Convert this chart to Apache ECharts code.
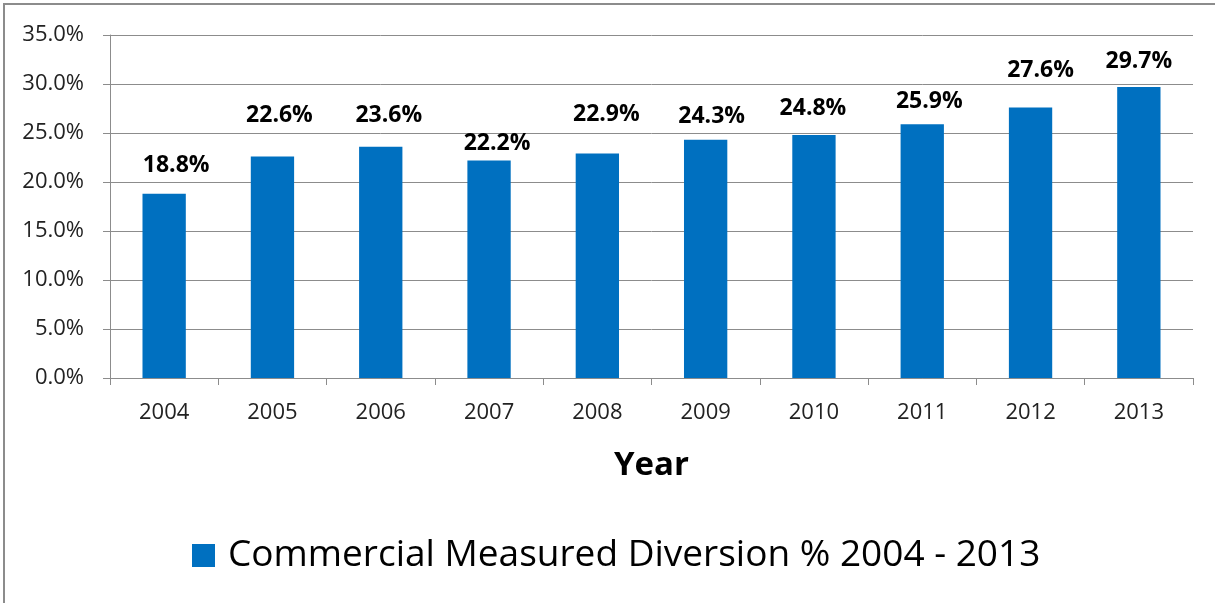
<!DOCTYPE html>
<html>
<head>
<meta charset="utf-8">
<script src="https://cdn.jsdelivr.net/npm/echarts@6/dist/echarts.min.js"></script>
<style>
html,body{margin:0;padding:0;background:#fff;overflow:hidden;}
#frame{position:absolute;left:3px;top:3px;width:1240px;height:640px;border:2px solid #8c8c8c;}
#main{position:absolute;left:0;top:0;width:1215px;height:603px;}
</style>
</head>
<body>
<div id="frame"></div>
<div id="main"></div>
<script>
// data
var years = ['2004','2005','2006','2007','2008','2009','2010','2011','2012','2013'];
var diversion = [18.8, 22.6, 23.6, 22.2, 22.9, 24.3, 24.8, 25.9, 27.6, 29.7];
var seriesName = 'Commercial Measured Diversion % 2004 - 2013';
// the data labels were nudged by hand in the original, [dx, dy] in px
var labelNudge = [[12,1],[7,-12],[8,-2],[8,13],[9,-10],[6,6],[-1,3],[7,7],[10,-8],[0,4]];

var chart = echarts.init(document.getElementById('main'));
var font = '"Open Sans", "Noto Sans", sans-serif';

var barData = [];
for (var i = 0; i < diversion.length; i++) {
	barData.push({value: diversion[i], label: {offset: labelNudge[i]}});
}

var option = {
	animation: false,
	textStyle: {fontFamily: font},
	grid: {left: 110, right: 22, top: 35, bottom: 225},
	legend: {
		bottom: 24,
		left: 187,
		itemWidth: 23,
		itemHeight: 23,
		itemGap: 10,
		icon: 'rect',
		textStyle: {fontSize: 37, color: '#000', fontFamily: font, padding: [0, 0, 0, 8]},
		data: [seriesName]
	},
	xAxis: {
		type: 'category',
		data: years,
		name: 'Year',
		nameLocation: 'middle',
		nameGap: 71,
		nameTextStyle: {fontSize: 33, fontWeight: 'bold', color: '#000', fontFamily: font},
		axisLine: {lineStyle: {color: '#8c8c8c', width: 1}},
		axisTick: {show: true, length: 7, lineStyle: {color: '#8c8c8c'}},
		axisLabel: {fontSize: 22, color: '#222', margin: 24, fontFamily: font}
	},
	yAxis: {
		type: 'value',
		min: 0,
		max: 35,
		interval: 5,
		axisLine: {show: true, lineStyle: {color: '#8c8c8c', width: 1}},
		axisTick: {show: true, length: 7, lineStyle: {color: '#8c8c8c'}},
		splitLine: {lineStyle: {color: '#8c8c8c', width: 1}},
		axisLabel: {
			fontSize: 22, color: '#222', margin: 26, fontFamily: font,
			formatter: function(v){ return v.toFixed(1) + '%'; }
		}
	},
	series: [{
		name: seriesName,
		type: 'bar',
		data: barData,
		barCategoryGap: '60%',
		itemStyle: {color: '#0070c0'},
		label: {
			show: true,
			position: 'top',
			distance: 18,
			fontSize: 23,
			fontWeight: 'bold',
			color: '#000',
			fontFamily: font,
			formatter: function(p){ return p.value.toFixed(1) + '%'; }
		}
	}]
};
chart.setOption(option);
</script>
</body>
</html>
